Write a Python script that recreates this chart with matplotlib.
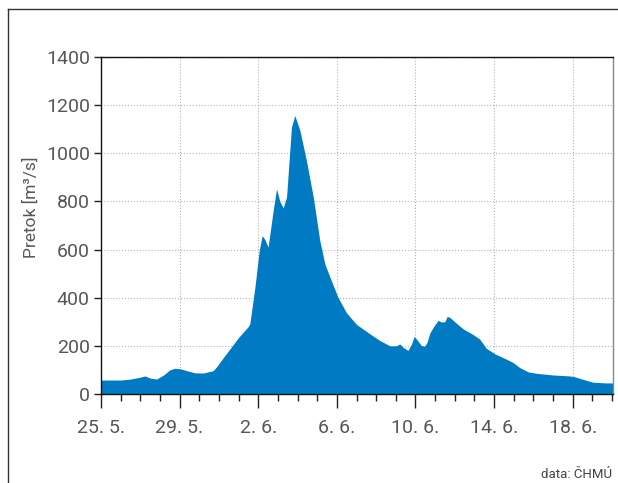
import matplotlib
matplotlib.use("Agg")
import matplotlib.pyplot as plt
from matplotlib.lines import Line2D

# day offset from 25. 5. and discharge [m3/s]
days = [0, 1.0, 1.5, 2.0, 2.24, 2.5, 2.83, 3.2, 3.5, 3.76, 4.07, 4.4, 4.78, 5.2, 5.71,
        5.9, 6.13, 6.64, 7.0, 7.49, 7.57, 7.83, 8.05, 8.2, 8.35, 8.5, 8.76, 8.93,
        9.1, 9.27, 9.44, 9.69, 9.86, 10.12, 10.45, 10.8, 11.13, 11.39, 11.64,
        12.05, 12.49, 13.0, 13.68, 14.19, 14.7, 15.03, 15.2, 15.37, 15.62, 15.8,
        15.93, 16.08, 16.3, 16.47, 16.59, 16.73, 16.93, 17.15, 17.32, 17.49,
        17.61, 17.74, 18.08, 18.42, 18.93, 19.27, 19.6, 20.06, 20.62, 20.96,
        21.3, 21.73, 22.15, 23.0, 23.84, 24.08, 24.52, 25.03, 25.71, 26.05]
flow = [58, 58, 62, 70, 75, 66, 62, 80, 100, 107, 104, 96, 88, 87, 97,
        115, 141, 196, 235, 280, 291, 443, 596, 658, 640, 610, 762, 852,
        800, 773, 818, 1109, 1157, 1095, 970, 818, 638, 540, 487,
        403, 337, 289, 250, 222, 200, 200, 208, 194, 181, 208,
        239, 225, 201, 199, 215, 253, 281, 306, 299, 300,
        322, 319, 294, 271, 247, 228, 190, 166, 145, 131,
        110, 92, 86, 79, 75, 72, 61, 49, 46, 46]

tick_pos = [0, 4, 8, 12, 16, 20, 24]
tick_labels = ["25. 5.", "29. 5.", "2. 6.", "6. 6.", "10. 6.", "14. 6.", "18. 6."]

plt.rcParams['font.family'] = ['Roboto', 'DejaVu Sans']
txt = '#575757'

fig = plt.figure(figsize=(6.18, 4.83), dpi=100)
ax = fig.add_axes([101/618, 1 - 394/483, (613 - 101)/618, (394 - 57)/483])

ax.fill_between(days, flow, 0, color='#007bc3', lw=0, zorder=2)

ax.set_xlim(0, 26.05)
ax.set_ylim(0, 1400)
ax.set_xticks(tick_pos)
ax.set_xticklabels(tick_labels)
ax.set_xticks(range(0, 27), minor=True)
ax.set_yticks(range(0, 1401, 200))

ax.grid(True, which='major', color='#b4b4b4', ls=':', lw=0.8, zorder=1)
ax.tick_params(axis='x', which='major', length=10, width=1, color='#222222',
               labelsize=14, labelcolor=txt, pad=8)
ax.tick_params(axis='x', which='minor', length=5, width=1, color='#222222')
ax.tick_params(axis='y', length=5, width=1, color='#222222',
               labelsize=14, labelcolor=txt, pad=3)

for s in ['left', 'top', 'bottom']:
    ax.spines[s].set_color('#111111')
    ax.spines[s].set_linewidth(1)
ax.spines['right'].set_color('#888888')
ax.spines['right'].set_linewidth(1)

ax.set_ylabel("Pretok [m³/s]", fontsize=12.5, color=txt)
ax.yaxis.set_label_coords(-0.122, 0.555)

fig.text(612/618, 1 - 474/483, "data: ČHMÚ", ha='right', va='center',
         fontsize=9.5, color='#444444')

# frame lines at top and left of the figure
fig.add_artist(Line2D([8/618, 1], [1 - 9/483, 1 - 9/483], color='#333333', lw=1))
fig.add_artist(Line2D([8/618, 8/618], [0, 1 - 9/483], color='#333333', lw=1))

fig.savefig("out.png", dpi=100)
